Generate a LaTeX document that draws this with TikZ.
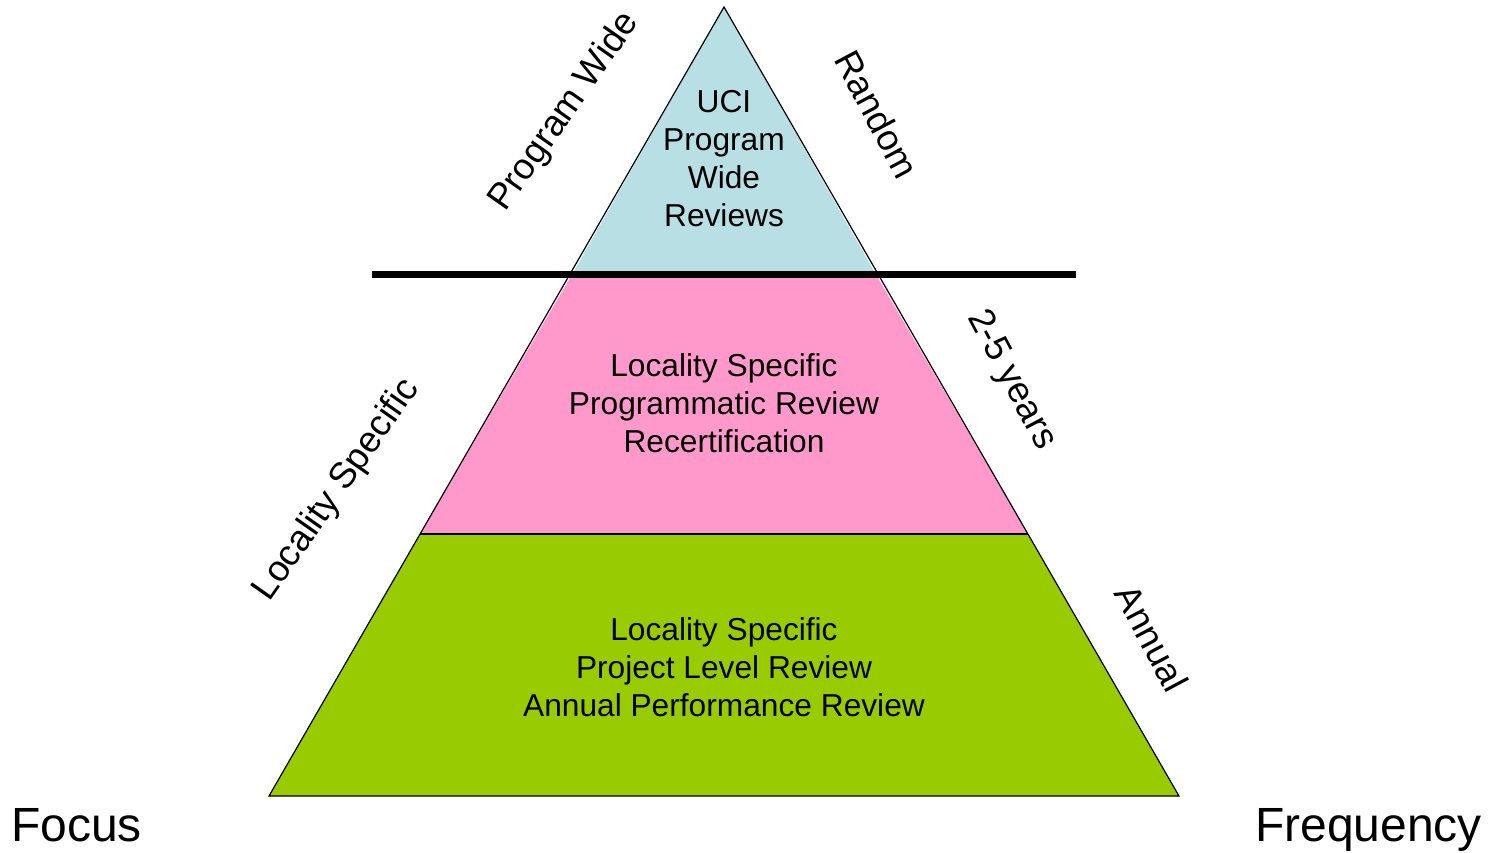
\documentclass[tikz,border=0pt]{standalone}
\usepackage{fontspec}
\setmainfont{Liberation Sans}
\definecolor{bandblue}{HTML}{B8DFE3}
\definecolor{bandpink}{HTML}{FF99CC}
\definecolor{bandgreen}{HTML}{99CC00}
\tikzset{
  band/.style={draw=black, line width=1.2pt, line join=miter},
  inner/.style={align=center, inner sep=0pt, font=\fontsize{31.7}{38}\selectfont},
  side/.style={inner sep=0pt, font=\fontsize{36.5}{42}\selectfont},
  corner/.style={inner sep=0pt, font=\fontsize{48}{56}\selectfont},
}
\begin{document}
\begin{tikzpicture}[x=1pt, y=-1pt]
\useasboundingbox (0,0) rectangle (1494,853);
% pyramid corners
\coordinate (apex) at (724,7);
\coordinate (tl) at (572.3,274);
\coordinate (tr) at (875.7,274);
\coordinate (ml) at (420.1,534);
\coordinate (mr) at (1027.9,534);
\coordinate (bl) at (269,796);
\coordinate (br) at (1179,796);
% bands
\fill[bandgreen] (ml) -- (mr) -- (br) -- (bl) -- cycle;
\fill[bandpink] (tl) -- (tr) -- (mr) -- (ml) -- cycle;
\fill[bandblue] (apex) -- (tr) -- (tl) -- cycle;
\draw[band] (apex) -- (br) -- (bl) -- cycle;
\draw[black, line width=2pt] (ml) -- (mr);
% divider
\coordinate (divl) at (372,274);
\coordinate (divr) at (1076,274);
\draw[line width=7pt] (divl) -- (divr);
% band texts
\node[inner] (uci) at (724,159) {UCI\\Program\\Wide\\Reviews};
\node[inner] (prog) at (724,403.5) {Locality Specific\\Programmatic Review\\Recertification};
\node[inner] (proj) at (724,667) {Locality Specific\\Project Level Review\\Annual Performance Review};
% side labels
\node[side, rotate=55] (pw) at (565,112) {Program Wide};
\node[side, rotate=55] (ls) at (337,490) {Locality Specific};
\node[side, rotate=-62] (rnd) at (877,114) {Random};
\node[side, rotate=-62] (yrs) at (1011,380) {2-5 years};
\node[side, rotate=-62] (ann) at (1152,638) {Annual};
% corner labels
\node[corner, anchor=base west] (focus) at (11,841) {Focus};
\node[corner, anchor=base east] (freq) at (1482,841) {Frequency};
\end{tikzpicture}
\end{document}
